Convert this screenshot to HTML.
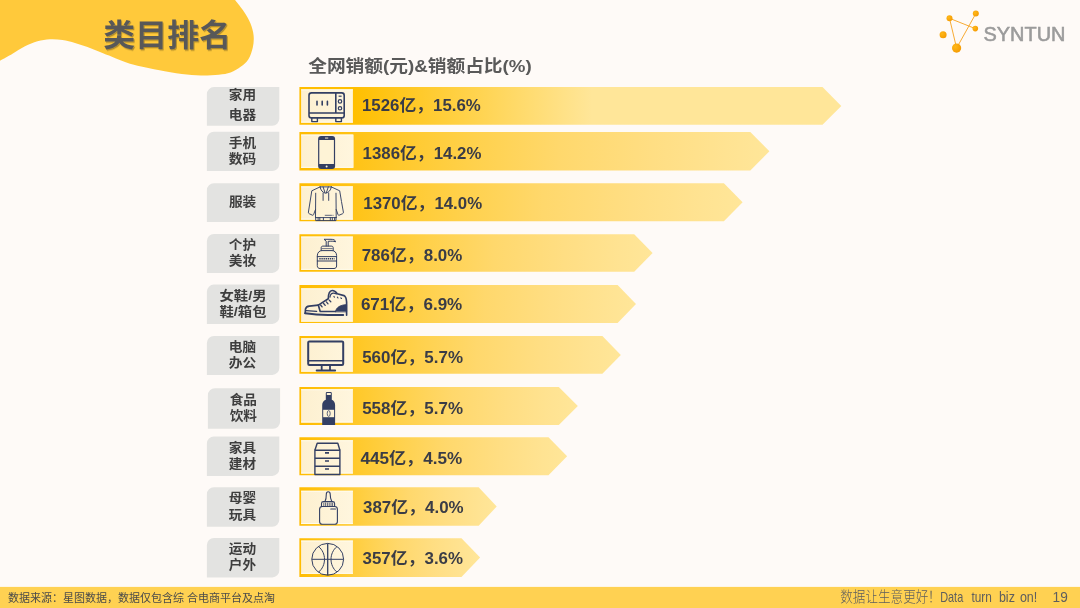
<!DOCTYPE html>
<html lang="zh-CN">
<head>
<meta charset="utf-8">
<title>类目排名</title>
<style>
html,body{margin:0;padding:0;}
body{width:1080px;height:608px;overflow:hidden;background:#FEFAF7;font-family:"Liberation Sans","Noto Sans CJK SC",sans-serif;}
#stage{position:relative;width:1080px;height:608px;overflow:hidden;background:#FEFAF7;}
svg{position:absolute;left:0;top:0;}
.t{font-family:"Liberation Sans","Noto Sans CJK SC",sans-serif;}
.cjk{font-family:"Liberation Sans","Noto Sans CJK SC",sans-serif;}
</style>
</head>
<body>
<div id="stage">
<svg width="1080" height="608" viewBox="0 0 1080 608">
<defs>
<linearGradient id="g" x1="0" y1="0" x2="1" y2="0"><stop offset="0" stop-color="#FFBC00"/><stop offset="0.1" stop-color="#FFC212"/><stop offset="0.21" stop-color="#FFC92B"/><stop offset="0.373" stop-color="#FFD14C"/><stop offset="0.551" stop-color="#FFD86C"/><stop offset="0.75" stop-color="#FFDE83"/><stop offset="0.908" stop-color="#FFE392"/><stop offset="1" stop-color="#FFE699"/></linearGradient>
<linearGradient id="g1" x1="0" y1="0" x2="1" y2="0"><stop offset="0" stop-color="#FFBD00"/><stop offset="0.1" stop-color="#FFBF00"/><stop offset="0.54" stop-color="#FFE699"/><stop offset="1" stop-color="#FFE699"/></linearGradient>
<linearGradient id="bx" x1="0" y1="0" x2="1" y2="0"><stop offset="0" stop-color="#FDF0D0"/><stop offset="1" stop-color="#FFF6DE"/></linearGradient>
<radialGradient id="dot" cx="0.35" cy="0.35" r="0.8"><stop offset="0" stop-color="#FFB818"/><stop offset="1" stop-color="#F39700"/></radialGradient>
<filter id="ts" x="-10%" y="-10%" width="130%" height="140%"><feDropShadow dx="1" dy="1.3" stdDeviation="0.7" flood-color="#000" flood-opacity="0.3"/></filter>
</defs>
<!-- top-left blob -->
<path d="M-1 -1H234.3C235.9 1.1 241.3 7.7 244 11.8C246.7 15.9 249.0 19.8 250.6 23.7C252.2 27.6 253.2 31.6 253.6 35.5C254.0 39.5 253.7 43.4 252.8 47.4C251.9 51.4 250.4 56.0 248.4 59.2C246.4 62.4 244.0 64.4 241 66.6C238.0 68.8 234.3 71.2 230.6 72.5C226.9 73.8 223.7 74.2 218.8 74.7C213.9 75.2 207.2 75.6 201 75.5C194.8 75.4 188.7 74.9 181.8 74C174.9 73.1 165.8 71.4 159.6 70.3C153.4 69.2 149.7 68.4 144.8 67.3C139.9 66.2 135.4 65.4 130 63.7C124.6 62.0 117.5 59.0 112.5 57C107.5 55.0 104.2 53.7 100 52C95.8 50.3 91.7 48.5 87.5 47C83.3 45.5 79.2 44.2 75 43C70.8 41.8 66.7 40.6 62.5 40C58.3 39.4 54.2 39.0 50 39.25C45.8 39.5 41.7 40.1 37.5 41.25C33.3 42.4 29.2 44.2 25 46.25C20.8 48.3 16.8 51.2 12.5 53.75C8.2 56.3 1.2 60.0 -1 61.3Z" fill="#FFC93B"/>
<text class="cjk" x="103.2" y="45.6" font-size="31" font-weight="700" fill="#595959" filter="url(#ts)" textLength="128" lengthAdjust="spacingAndGlyphs">类目排名</text>
<text class="t" x="308.2" y="71.6" font-size="17.3" font-weight="700" fill="#595959" textLength="223.5" lengthAdjust="spacingAndGlyphs">全网销额(元)&amp;销额占比(%)</text>
<!-- logo -->
<g transform="translate(0.3,0.3)"><g stroke="#F6A21E" stroke-width="0.9" fill="none"><path d="M949.2 18L956.3 47.8L975.5 13.3M949.2 18L975 28.3"/></g>
<g fill="url(#dot)"><circle cx="949.2" cy="18" r="3"/><circle cx="975.5" cy="13.3" r="3"/><circle cx="975" cy="28.3" r="2.8"/><circle cx="942.8" cy="34.5" r="3.5"/><circle cx="956.3" cy="47.8" r="4.6"/></g></g>
<text class="t" x="983.5" y="40.9" font-size="19.6" fill="#9B9B9B" stroke="#9B9B9B" stroke-width="0.55" textLength="82" lengthAdjust="spacingAndGlyphs">SYNTUN</text>

<!-- row 1 -->
<path d="M213.9 87.1H279.3V118.7A7 7 0 0 1 272.3 125.7H206.9V94.1A7 7 0 0 1 213.9 87.1Z" fill="#E3E3E1"/>
<text class="cjk" transform="translate(242.4,99.20) scale(1.085,1)" font-size="12.6" font-weight="700" fill="#3E3E3E" text-anchor="middle">家用</text>
<text class="cjk" transform="translate(242.4,119.40) scale(1.085,1)" font-size="12.6" font-weight="700" fill="#3E3E3E" text-anchor="middle">电器</text>
<path d="M299.4 87.0H822.5L841.3 105.90L822.5 124.8H299.4Z" fill="url(#g1)"/>
<rect x="301.1" y="89.35" width="51.8" height="33.3" fill="url(#bx)"/>
<path d="M301.1 89.85H352.9M301.1 122.15H352.9" stroke="#FFFCEE" stroke-width="1"/>
<g transform="translate(0,0.00)" fill="none" stroke="#333F63" stroke-width="1.6" stroke-linejoin="round">
<rect x="309" y="92.9" width="35.2" height="25" rx="2.5"/>
<path d="M309 113H344.2M335.8 92.9V113"/>
<path d="M311.8 118V121.6H317.4V118M335.8 118V121.6H341.4V118" stroke-width="1.4"/>
<path d="M317 101.4V104.9M322.2 101.4V104.9M327.4 101.4V104.9" stroke-linecap="round"/>
<circle cx="340" cy="101.4" r="1.7" stroke-width="1.2"/><circle cx="340" cy="108.3" r="1.7" stroke-width="1.2"/>
<path d="M338.6 96.2H341.6" stroke-width="1.2"/></g>
<text class="t" x="362.00" y="111.4" font-size="16.4" font-weight="700" fill="#3A3C46" textLength="118.80" lengthAdjust="spacingAndGlyphs">1526亿，15.6%</text>
<!-- row 2 -->
<path d="M213.9 131.8H279.3V164.0A7 7 0 0 1 272.3 171.0H206.9V138.8A7 7 0 0 1 213.9 131.8Z" fill="#E3E3E1"/>
<text class="cjk" transform="translate(242.4,147.20) scale(1.085,1)" font-size="12.6" font-weight="700" fill="#3E3E3E" text-anchor="middle">手机</text>
<text class="cjk" transform="translate(242.4,162.90) scale(1.085,1)" font-size="12.6" font-weight="700" fill="#3E3E3E" text-anchor="middle">数码</text>
<path d="M299.4 132.0H750.3L769.4 151.25L750.3 170.5H299.4Z" fill="url(#g)"/>
<rect x="301.1" y="134.55" width="52.5" height="33.3" fill="url(#bx)"/>
<path d="M301.1 135.05H352.9M301.1 167.35H352.9" stroke="#FFFCEE" stroke-width="1"/>
<g transform="translate(0,0.00)">
<rect x="318.1" y="136" width="17" height="32.9" rx="3" fill="#333F63"/>
<rect x="319.3" y="140" width="14.6" height="24" fill="#FEF3D6"/>
<rect x="325" y="137.6" width="3.2" height="0.9" fill="#FEF3D6"/>
<circle cx="326.6" cy="166.6" r="1" fill="#FEF3D6"/></g>
<text class="t" x="362.60" y="158.6" font-size="16.4" font-weight="700" fill="#3A3C46" textLength="118.80" lengthAdjust="spacingAndGlyphs">1386亿，14.2%</text>
<!-- row 3 -->
<path d="M213.9 183.3H279.3V214.9A7 7 0 0 1 272.3 221.9H206.9V190.3A7 7 0 0 1 213.9 183.3Z" fill="#E3E3E1"/>
<text class="cjk" transform="translate(242.6,206.30) scale(1.085,1)" font-size="12.6" font-weight="700" fill="#3E3E3E" text-anchor="middle">服装</text>
<path d="M299.4 183.2H723.9L742.6 202.20L723.9 221.2H299.4Z" fill="url(#g)"/>
<rect x="301.1" y="186.35" width="51.8" height="33.3" fill="url(#bx)"/>
<path d="M301.1 186.85H352.9M301.1 219.15H352.9" stroke="#FFFCEE" stroke-width="1"/>
<g transform="translate(0,0.00)" fill="none" stroke="#333F63" stroke-width="0.95" stroke-linejoin="round" stroke-linecap="round">
<path d="M320.1 186.9L311.8 190.8C310.6 198 309.6 205 308.4 212.2C308.3 213 308.6 213.4 309.2 213.7L312.4 215.2C313 215.4 313.4 215.2 313.6 214.6L315.5 209.5"/>
<path d="M331.3 186.9L339.7 190.8C340.9 198 342 205 343.4 212.2C343.5 213 343.2 213.4 342.6 213.7L339.2 215.2C338.6 215.4 338.2 215.2 338 214.6L336.2 209.5"/>
<path d="M315.5 217.6L315.7 193.2M336.2 217.6L336 193.2M315.5 217.6H336.2"/>
<path d="M320.1 186.9H331.3M320.1 186.9C320.6 190.4 322.6 192.4 325.7 193.3C328.8 192.4 330.8 190.4 331.3 186.9"/>
<path d="M323.1 186.9L325 192.6M328.3 186.9L326.4 192.6"/>
<path d="M323.1 193V200.4M328.7 193V200.4"/>
<path d="M315.7 217.6V220.6H336V217.6M318.1 217.6V220.6M319.8 217.6V220.6M323.4 217.6V220.6M330.3 217.6V220.6M332.3 217.6V220.6M334.6 217.6V220.6"/>
<path d="M325.2 215.3H331.5" stroke-width="0.8"/><path d="M332.6 215.3H333.4" stroke-width="0.5"/></g>
<text class="t" x="363.30" y="208.6" font-size="16.4" font-weight="700" fill="#3A3C46" textLength="118.80" lengthAdjust="spacingAndGlyphs">1370亿，14.0%</text>
<!-- row 4 -->
<path d="M213.9 233.9H279.3V265.9A7 7 0 0 1 272.3 272.9H206.9V240.9A7 7 0 0 1 213.9 233.9Z" fill="#E3E3E1"/>
<text class="cjk" transform="translate(242.4,249.20) scale(1.085,1)" font-size="12.6" font-weight="700" fill="#3E3E3E" text-anchor="middle">个护</text>
<text class="cjk" transform="translate(242.4,265.10) scale(1.085,1)" font-size="12.6" font-weight="700" fill="#3E3E3E" text-anchor="middle">美妆</text>
<path d="M299.4 234.2H634.2L652.6 253.00L634.2 271.8H299.4Z" fill="url(#g)"/>
<rect x="301.1" y="236.55" width="51.8" height="33.3" fill="url(#bx)"/>
<path d="M301.1 237.05H352.9M301.1 269.35H352.9" stroke="#FFFCEE" stroke-width="1"/>
<g transform="translate(0,0.00)" fill="none" stroke="#333F63" stroke-width="1" stroke-linejoin="round" stroke-linecap="round">
<path d="M317.3 255.5C317.3 252.5 319.5 250.6 322 250.6H332C334.5 250.6 336.6 252.5 336.6 255.5V266C336.6 267.6 335.5 268.5 334 268.5H320C318.4 268.5 317.3 267.6 317.3 266Z"/>
<path d="M321.2 250.6V247.6C321.2 246.6 322 246.1 323 246.1H331.2C332.4 246.1 333.2 246.6 333.2 247.6V250.6"/>
<path d="M322.3 248.6H332.2" stroke-width="0.7"/>
<path d="M326.2 246.1V241.2L324 239.3H331C333.5 239.3 335.4 240 335.6 241.8C333.5 241 331 241.2 328.2 241.3V246.1"/>
<path d="M317.3 256.6H336.6M317.3 261H336.6"/>
<path d="M319.3 258.8H334.5" stroke-width="1.6" stroke-dasharray="1.4 0.7" stroke-linecap="butt"/></g>
<text class="t" x="361.70" y="260.6" font-size="16.4" font-weight="700" fill="#3A3C46" textLength="100.60" lengthAdjust="spacingAndGlyphs">786亿，8.0%</text>
<!-- row 5 -->
<path d="M213.9 284.6H279.3V316.9A7 7 0 0 1 272.3 323.9H206.9V291.6A7 7 0 0 1 213.9 284.6Z" fill="#E3E3E1"/>
<text class="cjk" transform="translate(243.0,300.40) scale(1.14,1)" font-size="12.6" font-weight="700" fill="#3E3E3E" text-anchor="middle">女鞋/男</text>
<text class="cjk" transform="translate(243.0,315.50) scale(1.14,1)" font-size="12.6" font-weight="700" fill="#3E3E3E" text-anchor="middle">鞋/箱包</text>
<path d="M299.4 285.0H617.6L636.0 304.00L617.6 323.0H299.4Z" fill="url(#g)"/>
<rect x="301.1" y="288.35" width="51.8" height="33.3" fill="url(#bx)"/>
<path d="M301.1 288.85H352.9M301.1 321.15H352.9" stroke="#FFFCEE" stroke-width="1"/>
<g transform="translate(0,0.00)" fill="none" stroke="#333F63" stroke-width="1.65" stroke-linejoin="round" stroke-linecap="round">
<path d="M305.2 313.3L305.5 309C305.9 307.2 307.3 306.3 309.3 306.1L318.3 305.1L328.3 298.8C328.3 294.5 329.8 290.7 332.2 290.5C334.6 290.4 336.2 292.2 337.2 293.8L344 295.6C345.7 296.4 346.4 299 346.6 302V315.2"/>
<path d="M305.2 313.3C312 314.4 320 315.1 328 315.1H343.2" stroke-width="2"/>
<path d="M306.2 310.6L316.6 311.4" stroke-width="1.4"/>
<path d="M318.3 305.1L320.2 311.5H335.5"/>
<path d="M329.9 297C330.4 294.6 331.9 293 333.9 293.2L336.4 293.9" stroke-width="1.3"/>
<path d="M320.6 305L322.1 306.9M323.6 303.5L325.2 305.4M326.4 301.9L328 303.8M329.3 300.3L330.8 301.7" stroke-width="1.3"/>
<path d="M333.9 296.4L334.4 297.2M337.4 297.2L338 298M340.8 297.8L341.5 298.5" stroke-width="1.1"/>
<path d="M335.3 311.5C336.6 307.2 340 305 346.6 304.6V311.5Z" fill="#333F63" stroke-width="0.8"/></g>
<text class="t" x="360.90" y="309.7" font-size="16.4" font-weight="700" fill="#3A3C46" textLength="101.40" lengthAdjust="spacingAndGlyphs">671亿，6.9%</text>
<!-- row 6 -->
<path d="M213.9 335.9H279.3V367.9A7 7 0 0 1 272.3 374.9H206.9V342.9A7 7 0 0 1 213.9 335.9Z" fill="#E3E3E1"/>
<text class="cjk" transform="translate(242.4,351.00) scale(1.085,1)" font-size="12.6" font-weight="700" fill="#3E3E3E" text-anchor="middle">电脑</text>
<text class="cjk" transform="translate(242.4,366.90) scale(1.085,1)" font-size="12.6" font-weight="700" fill="#3E3E3E" text-anchor="middle">办公</text>
<path d="M299.4 336.1H602.4L620.8 354.95L602.4 373.8H299.4Z" fill="url(#g)"/>
<rect x="301.1" y="338.35" width="51.8" height="33.3" fill="url(#bx)"/>
<path d="M301.1 338.85H352.9M301.1 371.15H352.9" stroke="#FFFCEE" stroke-width="1"/>
<g transform="translate(0,0.00)" fill="none" stroke="#333F63" stroke-width="2" stroke-linejoin="round" stroke-linecap="round">
<rect x="308.2" y="341.4" width="35" height="23.6" rx="1.2"/>
<path d="M308.2 360.8H343.2" stroke-width="1.6"/>
<path d="M321.7 365.5V370.2M330 365.5V370.2" stroke-width="1.8" stroke-linecap="butt"/>
<path d="M316.6 370.5H335.2" stroke-width="1.8"/></g>
<text class="t" x="362.20" y="363.3" font-size="16.4" font-weight="700" fill="#3A3C46" textLength="100.80" lengthAdjust="spacingAndGlyphs">560亿，5.7%</text>
<!-- row 7 -->
<path d="M214.9 388.2H280.1V421.8A7 7 0 0 1 273.1 428.8H207.9V395.2A7 7 0 0 1 214.9 388.2Z" fill="#E3E3E1"/>
<text class="cjk" transform="translate(243.3,403.90) scale(1.085,1)" font-size="12.6" font-weight="700" fill="#3E3E3E" text-anchor="middle">食品</text>
<text class="cjk" transform="translate(243.3,419.60) scale(1.085,1)" font-size="12.6" font-weight="700" fill="#3E3E3E" text-anchor="middle">饮料</text>
<path d="M299.4 386.9H558.8L577.8 405.90L558.8 424.9H299.4Z" fill="url(#g)"/>
<rect x="301.1" y="389.25" width="51.8" height="33.3" fill="url(#bx)"/>
<path d="M301.1 389.75H352.9M301.1 422.05H352.9" stroke="#FFFCEE" stroke-width="1"/>
<g transform="translate(0,0.00)">
<path d="M325.8 393.2C325.8 392.4 326.4 392 327.2 392H330.4C331.2 392 331.8 392.4 331.8 393.2V399.8C333.8 400.8 335.1 402.4 335.1 405V424.9H322.2V405C322.2 402.4 323.6 400.8 325.8 399.8Z" fill="#333F63"/>
<rect x="326.7" y="392.9" width="4.2" height="2" rx="0.6" fill="#FEF3D6"/>
<rect x="323.2" y="409.8" width="10.9" height="7.4" fill="#FEF3D6"/>
<ellipse cx="328.7" cy="413.5" rx="1.5" ry="2.9" fill="none" stroke="#333F63" stroke-width="0.8"/></g>
<text class="t" x="362.20" y="414.0" font-size="16.4" font-weight="700" fill="#3A3C46" textLength="100.80" lengthAdjust="spacingAndGlyphs">558亿，5.7%</text>
<!-- row 8 -->
<path d="M213.9 436.4H279.3V468.9A7 7 0 0 1 272.3 475.9H206.9V443.4A7 7 0 0 1 213.9 436.4Z" fill="#E3E3E1"/>
<text class="cjk" transform="translate(242.4,451.80) scale(1.085,1)" font-size="12.6" font-weight="700" fill="#3E3E3E" text-anchor="middle">家具</text>
<text class="cjk" transform="translate(242.4,467.90) scale(1.085,1)" font-size="12.6" font-weight="700" fill="#3E3E3E" text-anchor="middle">建材</text>
<path d="M299.4 437.2H548.5L567.1 456.25L548.5 475.3H299.4Z" fill="url(#g)"/>
<rect x="301.1" y="440.25" width="51.8" height="33.3" fill="url(#bx)"/>
<path d="M301.1 440.75H352.9M301.1 473.05H352.9" stroke="#FFFCEE" stroke-width="1"/>
<g transform="translate(0,0.00)" fill="none" stroke="#333F63" stroke-width="1.4" stroke-linejoin="round">
<path d="M314.9 450.3L317.2 443.2H337.8L339.9 450.3"/>
<rect x="314.9" y="450.3" width="25" height="24.2"/>
<path d="M314.9 458.3H339.9M314.9 466.3H339.9"/>
<path d="M325 452.9H329M325 461H329M325 469H329" stroke-width="1.6"/></g>
<text class="t" x="360.40" y="464.0" font-size="16.4" font-weight="700" fill="#3A3C46" textLength="101.90" lengthAdjust="spacingAndGlyphs">445亿，4.5%</text>
<!-- row 9 -->
<path d="M213.9 487.3H279.3V519.7A7 7 0 0 1 272.3 526.7H206.9V494.3A7 7 0 0 1 213.9 487.3Z" fill="#E3E3E1"/>
<text class="cjk" transform="translate(242.4,502.20) scale(1.085,1)" font-size="12.6" font-weight="700" fill="#3E3E3E" text-anchor="middle">母婴</text>
<text class="cjk" transform="translate(242.4,518.80) scale(1.085,1)" font-size="12.6" font-weight="700" fill="#3E3E3E" text-anchor="middle">玩具</text>
<path d="M299.4 487.3H478.7L496.7 506.55L478.7 525.8H299.4Z" fill="url(#g)"/>
<rect x="301.1" y="490.75" width="51.8" height="33.3" fill="url(#bx)"/>
<path d="M301.1 491.25H352.9M301.1 523.55H352.9" stroke="#FFFCEE" stroke-width="1"/>
<g transform="translate(0,0.00)" fill="none" stroke="#333F63" stroke-width="1.1" stroke-linejoin="round" stroke-linecap="round">
<rect x="319.6" y="506.5" width="17.8" height="17.8" rx="2.8"/>
<path d="M321.5 506.5V503.4C321.5 502.2 322.3 501.6 323.4 501.6H332.6C333.8 501.6 334.6 502.2 334.6 503.4V506.5"/>
<path d="M325 501.6C326.3 499 326.3 497 326.3 494.2C326.3 492.6 327.1 491.8 328.2 491.8C329.4 491.8 330.2 492.6 330.2 494.2C330.2 497 330.4 499 331.8 501.6"/>
<path d="M323.8 503V505.6M325.6 503V505.6M327.4 503V505.6M329.2 503V505.6M331 503V505.6M332.6 503V505.6" stroke-width="0.8"/>
<path d="M330.8 509H335.5" stroke-width="1.2"/></g>
<text class="t" x="363.00" y="513.1" font-size="16.4" font-weight="700" fill="#3A3C46" textLength="100.60" lengthAdjust="spacingAndGlyphs">387亿，4.0%</text>
<!-- row 10 -->
<path d="M213.9 537.9H279.3V570.4A7 7 0 0 1 272.3 577.4H206.9V544.9A7 7 0 0 1 213.9 537.9Z" fill="#E3E3E1"/>
<text class="cjk" transform="translate(242.4,553.20) scale(1.085,1)" font-size="12.6" font-weight="700" fill="#3E3E3E" text-anchor="middle">运动</text>
<text class="cjk" transform="translate(242.4,569.20) scale(1.085,1)" font-size="12.6" font-weight="700" fill="#3E3E3E" text-anchor="middle">户外</text>
<path d="M299.4 538.2H461.5L480.1 557.55L461.5 576.9H299.4Z" fill="url(#g)"/>
<rect x="301.1" y="540.55" width="51.8" height="33.3" fill="url(#bx)"/>
<path d="M301.1 541.05H352.9M301.1 573.35H352.9" stroke="#FFFCEE" stroke-width="1"/>
<g transform="translate(0,0.00)" fill="none" stroke="#333F63" stroke-width="1">
<circle cx="327.7" cy="559.3" r="15.9"/>
<path d="M311.8 559.3H343.6" />
<path d="M327.7 543.4V575.2" stroke-width="1.3"/>
<path d="M318.5 546.5C326.5 553 326.5 565.6 318.5 572.2M337 546.5C329 553 329 565.6 337 572.2"/></g>
<text class="t" x="362.60" y="563.7" font-size="16.4" font-weight="700" fill="#3A3C46" textLength="100.40" lengthAdjust="spacingAndGlyphs">357亿，3.6%</text>
<!-- footer -->
<rect x="0" y="586.9" width="1080" height="21.4" fill="#FFD152"/>
<text class="cjk" x="8" y="601.8" font-size="11" fill="#4A4A4A">数据来源：星图数据，数据仅包含综 合电商平台及点淘</text>
<g font-size="14.3" fill="#5E5E5E" font-weight="300" lengthAdjust="spacingAndGlyphs">
<text class="cjk" x="840.3" y="601.5" textLength="88" lengthAdjust="spacingAndGlyphs">数据让生意更好</text>
<text class="cjk" x="927.6" y="601.5">！</text>
<text class="t" x="940.2" y="601.5" textLength="23" lengthAdjust="spacingAndGlyphs">Data</text>
<text class="t" x="971.5" y="601.5" textLength="20.4" lengthAdjust="spacingAndGlyphs">turn</text>
<text class="t" x="998.9" y="601.5" textLength="16" lengthAdjust="spacingAndGlyphs">biz</text>
<text class="t" x="1019.9" y="601.5" textLength="17.4" lengthAdjust="spacingAndGlyphs">on!</text>
<text class="t" x="1052.6" y="601.5" textLength="15.2" lengthAdjust="spacingAndGlyphs">19</text>
</g>
</svg>
</div>
</body>
</html>
